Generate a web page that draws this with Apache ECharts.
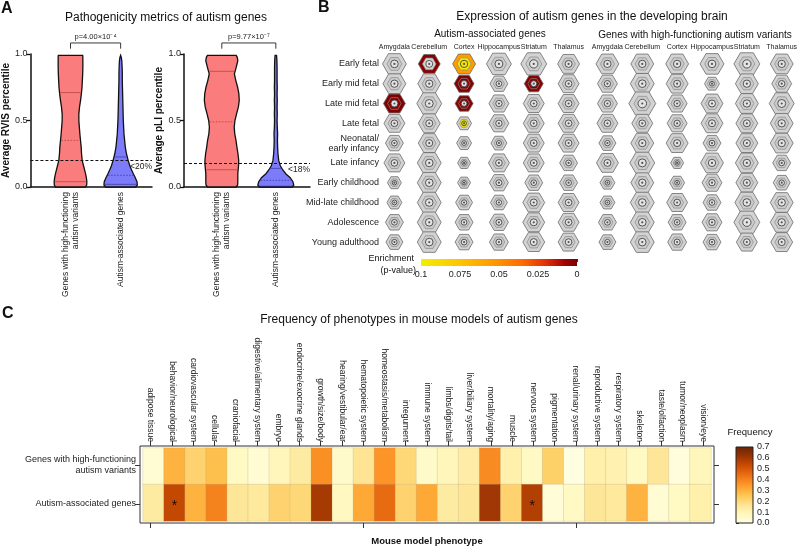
<!DOCTYPE html>
<html><head><meta charset="utf-8">
<script src="https://cdn.jsdelivr.net/npm/echarts@6/dist/echarts.min.js"></script>
<style>html,body{margin:0;padding:0;background:#fff}#c{width:800px;height:547px}</style>
</head><body><div id="c"></div>
<script>
// ================= DATA =================
// ---- Panel A: violin densities (relative half-width) at percentile levels ----
const violinLevels = [0,0.015,0.04,0.07,0.1,0.13,0.16,0.2,0.25,0.3,0.35,0.4,0.45,0.5,0.55,0.6,0.65,0.7,0.75,0.8,0.85,0.9,0.95,0.975,0.99];
const violinGroups = ['Genes with high-functioning\nautism variants', 'Autism-associated genes'];
const rvisHighFunc = [0.9,0.97,0.98,0.95,0.9,0.84,0.78,0.7,0.66,0.64,0.6,0.56,0.53,0.5,0.5,0.54,0.6,0.65,0.69,0.71,0.73,0.74,0.74,0.74,0.73];
const rvisAutism   = [0.9,1.0,0.98,0.88,0.76,0.65,0.55,0.45,0.35,0.28,0.24,0.2,0.18,0.16,0.15,0.14,0.13,0.12,0.11,0.1,0.1,0.09,0.07,0.04,0.0];
const pliHighFunc  = [0.8,0.88,0.89,0.89,0.89,0.91,0.93,0.94,0.9,0.84,0.79,0.72,0.69,0.73,0.82,0.92,0.97,0.95,0.88,0.78,0.7,0.8,0.89,0.86,0.8];
const pliAutism    = [0.92,1.0,0.95,0.8,0.55,0.38,0.25,0.16,0.12,0.1,0.09,0.1,0.08,0.07,0.08,0.07,0.08,0.07,0.08,0.07,0.07,0.07,0.06,0.05,0.04];
const rvisQuartiles = [[0.04,0.35,0.71],[0.02,0.088,0.226]];
const pliQuartiles  = [[0.13,0.49,0.87],[0.006,0.05,0.14]];
const rvisCutoff = 0.2, pliCutoff = 0.18;
const rvisCutoffLabel = '<20%', pliCutoffLabel = '<18%';
const rvisPValue = 'p=4.00×10⁻⁴', pliPValue = 'p=9.77×10⁻⁷';

// ---- Panel B: hexagon expression map ----
const brainRegions = ['Amygdala','Cerebellum','Cortex','Hippocampus','Striatum','Thalamus'];
const devStages = ['Early fetal','Early mid fetal','Late mid fetal','Late fetal','Neonatal/\nearly infancy','Late infancy','Early childhood','Mid-late childhood','Adolescence','Young adulthood'];
// relative number of specific genes (hexagon magnitude), rows = stages, cols = regions
const autismOverlap = [
 [24,22,23,25,26,22],
 [23,23,20,18,19,21],
 [22,25,18,20,21,21],
 [21,22,15,20,21,21],
 [18,22,15,16,21,21],
 [21,24,13,21,21,18],
 [14,24,13,19,18,18],
 [15,24,17,17,22,21],
 [18,24,18,19,22,21],
 [17,24,18,19,22,21]
];
const highFuncOverlap = [
 [23,23,23,24,26,23],
 [20,24,22,15,23,20],
 [20,27,20,22,23,25],
 [21,21,20,22,22,23],
 [17,23,22,18,22,23],
 [22,25,13,23,23,18],
 [15,23,15,20,22,17],
 [15,24,21,18,24,23],
 [18,24,18,20,26,23],
 [17,24,19,18,21,22]
];
// significant enrichment: [stage, region, outer p, inner p]
const autismEnriched = [
 [0,1,0.003,null],[0,2,0.055,0.096],
 [1,2,0.002,0.004],[1,4,0.003,0.002],
 [2,0,0.002,0.003],[2,2,0.002,0.003],
 [3,2,null,0.097]
];
const highFuncEnriched = [];
const enrichTicks = [0.1,0.075,0.05,0.025,0];

// ---- Panel C: phenotype frequency heatmap ----
const phenotypes = ['adipose tissue','behavior/neurological','cardiovascular system','cellular','craniofacial','digestive/alimentary system','embryo','endocrine/exocrine glands','growth/size/body','hearing/vestibular/ear','hematopoietic system','homeostasis/metabolism','integument','immune system','limbs/digits/tail','liver/biliary system','mortality/aging','muscle','nervous system','pigmentation','renal/urinary system','reproductive system','respiratory system','skeleton','taste/olfaction','tumor/neoplasm','vision/eye'];
const geneSets = ['Genes with high-functioning\nautism variants','Autism-associated genes'];
const freqHighFunc = [0.04,0.30,0.22,0.27,0.07,0.04,0.09,0.14,0.37,0.06,0.17,0.36,0.21,0.06,0.09,0.13,0.38,0.12,0.07,0.23,0.01,0.12,0.11,0.07,0.16,0.02,0.09];
const freqAutism   = [0.14,0.54,0.30,0.40,0.16,0.15,0.22,0.21,0.59,0.08,0.32,0.45,0.22,0.32,0.14,0.16,0.60,0.22,0.57,0.03,0.07,0.16,0.15,0.30,0.04,0.07,0.12];
const significantCells = [[1,1],[18,1]]; // [phenotype, gene set]

// ================= STYLE HELPERS =================
const FONT = 'Liberation Sans, Arial, Helvetica, sans-serif';
const enrichStops = [[0,'#780000'],[0.008,'#a40000'],[0.02,'#e0300a'],[0.035,'#ff6a00'],[0.05,'#ff9200'],[0.075,'#ffc400'],[0.1,'#f2ee00']];
const ylOrBr = ['#ffffe5','#fff7bc','#fee391','#fec44f','#fe9929','#ec7014','#cc4c02','#993404','#662506'];
function hex2rgb(h){h=h.replace('#','');return [0,2,4].map(i=>parseInt(h.substr(i,2),16));}
function lerpColor(stops, v){
  if (v <= stops[0][0]) return stops[0][1];
  for (let i=1;i<stops.length;i++){
    if (v <= stops[i][0]){
      const t=(v-stops[i-1][0])/(stops[i][0]-stops[i-1][0]);
      const a=hex2rgb(stops[i-1][1]), b=hex2rgb(stops[i][1]);
      return 'rgb('+a.map((x,k)=>Math.round(x+(b[k]-x)*t)).join(',')+')';
    }
  }
  return stops[stops.length-1][1];
}
const enrichColor = p => lerpColor(enrichStops, p);

// ================= PANEL A RENDER =================
function densAt(d, v){
  for (let k=1;k<violinLevels.length;k++){
    if (v <= violinLevels[k]){
      const t=(v-violinLevels[k-1])/(violinLevels[k]-violinLevels[k-1]);
      return d[k-1]+(d[k]-d[k-1])*t;
    }
  }
  return d[d.length-1];
}
const violinFill = ['#fb7c7c','#7c7cfb'];
const violinQColor = ['rgba(130,40,40,0.6)','rgba(30,30,130,0.65)'];
function violinRender(densList, quartList, pText){
  return function(params, api){
    const i = params.dataIndex;
    const d = densList[i], q = quartList[i];
    const cx = api.coord([i, 0])[0];
    const unit = api.size([1, 0])[0];
    const hw = v => v * 0.333 * unit;
    const right = [], left = [];
    violinLevels.forEach((lv, k) => {
      const y = api.coord([i, lv])[1];
      right.push([cx + hw(d[k]), y]);
      left.unshift([cx - hw(d[k]), y]);
    });
    const children = [{type:'polygon', shape:{points: right.concat(left)}, style:{fill: violinFill[i], stroke:'#111', lineWidth:1.3}}];
    q.forEach((qv, k) => {
      const y = api.coord([i, qv])[1];
      const h = Math.max(hw(densAt(d, qv)) - 1, 0.5);
      children.push({type:'line', shape:{x1:cx-h, y1:y, x2:cx+h, y2:y},
        style:{stroke: violinQColor[i], lineWidth: k===1 ? 0.9 : 0.8, lineDash: k===1 ? [1.5,1.5] : null}});
    });
    const base = api.coord([i, 0])[1];
    children.push({type:'text', x: cx, y: base + 5, rotation: Math.PI/2,
      style:{text: violinGroups[i], align:'right', verticalAlign:'middle', fontSize:8.5, fill:'#222', fontFamily: FONT, lineHeight:10}});
    if (i === 0){
      const x2 = api.coord([1, 0])[0];
      const yb = api.coord([0, 1.083])[1], ye = api.coord([0, 1.04])[1];
      children.push({type:'polyline', shape:{points:[[cx, ye],[cx, yb],[x2, yb],[x2, ye]]}, style:{stroke:'#222', lineWidth:0.9, fill:null}});
      children.push({type:'text', x:(cx+x2)/2, y: yb - 2,
        style:{text: pText, align:'center', verticalAlign:'bottom', fontSize:7.5, fill:'#222', fontFamily: FONT}});
    }
    return {type:'group', children};
  };
}

// ================= PANEL B RENDER =================
function hexPts(cx, cy, a, b){
  return [[cx-a,cy],[cx-a/2,cy-b],[cx+a/2,cy-b],[cx+a,cy],[cx+a/2,cy+b],[cx-a/2,cy+b]];
}
function buildHex(overlap, enriched){
  const data = [], extra = [];
  overlap.forEach((row, r) => row.forEach((m, c) => {
    const e = enriched.find(x => x[0]===r && x[1]===c);
    data.push([c, r, m]);
    extra.push(e ? [e[2], e[3]] : [null, null]);
  }));
  return {data, extra};
}
function hexRender(extra){
  return function(params, api){
    const c = api.coord([api.value(0), api.value(1)]);
    const band = api.size([1, 1]);
    const w = api.value(2) / 35 * band[0];
    const a = w/2, b = a*0.86;
    const e = extra[params.dataIndex];
    const outerFill = e[0] != null ? enrichColor(e[0]) : '#d3d3d3';
    const midFill = e[1] != null ? enrichColor(e[1]) : (e[0] != null ? '#d6d6d6' : '#cbcbcb');
    const coreFill = (e[1] != null && e[1] > 0.05) ? enrichColor(e[1]) : '#e4e4e4';
    return {type:'group', children:[
      {type:'polygon', shape:{points: hexPts(c[0], c[1], a, b)}, style:{fill: outerFill, stroke:'#6a6a6a', lineWidth:0.8}},
      {type:'polygon', shape:{points: hexPts(c[0], c[1], a*0.62, b*0.62)}, style:{fill: midFill, stroke:'#888', lineWidth:0.7}},
      {type:'circle', shape:{cx:c[0], cy:c[1], r: Math.max(w*0.16, 2.2)}, style:{fill: coreFill, stroke:'#444', lineWidth:0.9}},
      {type:'circle', shape:{cx:c[0], cy:c[1], r: 1.1}, style:{fill:'#555'}}
    ]};
  };
}
const hexAutism = buildHex(autismOverlap, autismEnriched);
const hexHighFunc = buildHex(highFuncOverlap, highFuncEnriched);

// ================= PANEL C DATA =================
const heatData = [];
[freqHighFunc, freqAutism].forEach((arr, r) => arr.forEach((v, c) => heatData.push([c, r, v])));
const isStar = (c, r) => significantCells.some(s => s[0]===c && s[1]===r);

// ================= OPTION =================
const axisLineBlack = {show:true, lineStyle:{color:'#111', width:1.5}};
const txt = (text, x, y, size, opt) => Object.assign({type:'text', x, y, style:Object.assign({text, fontSize:size, fill:'#111', fontFamily:FONT, align:'center', textAlign:'center', verticalAlign:'middle', textVerticalAlign:'middle'}, opt||{})});

const option = {
  animation:false,
  backgroundColor:'#fff',
  textStyle:{fontFamily: FONT},
  grid:[
    {left:21, top:54, width:131, height:133},            // 0 A1
    {left:184, top:54, width:126, height:133},           // 1 A2
    {left:377, top:54, width:209, height:198},           // 2 B1
    {left:590, top:54, width:210, height:198},           // 3 B2
    {left:421, top:259, width:156, height:7},            // 4 B colorbar
    {left:140, top:446, width:574, height:78, show:true, borderColor:'#333', borderWidth:1}, // 5 C frame
    {left:143, top:448, width:568, height:73},           // 6 C heat
    {left:736, top:447, width:17, height:76}             // 7 C colorbar
  ],
  xAxis:[
    {type:'value', gridIndex:0, min:-0.8, max:1.626, axisLine:axisLineBlack, axisTick:{show:false}, axisLabel:{show:false}, splitLine:{show:false}},
    {type:'value', gridIndex:1, min:-0.7, max:1.633, axisLine:axisLineBlack, axisTick:{show:false}, axisLabel:{show:false}, splitLine:{show:false}},
    {type:'category', gridIndex:2, data:brainRegions, position:'top', axisLine:{show:false}, axisTick:{show:false}, axisLabel:{interval:0, fontSize:7, color:'#222', margin:3}},
    {type:'category', gridIndex:3, data:brainRegions, position:'top', axisLine:{show:false}, axisTick:{show:false}, axisLabel:{interval:0, fontSize:7, color:'#222', margin:3}},
    {type:'value', gridIndex:4, min:0, max:0.1, interval:0.025, inverse:true, position:'bottom', axisLine:{show:false}, axisTick:{show:false}, splitLine:{show:false},
      axisLabel:{fontSize:9, color:'#222', margin:4, showMinLabel:true, showMaxLabel:true, formatter: v => String(+(+v).toFixed(3))}},
    {type:'value', gridIndex:4, min:0, max:0.1, interval:0.025, inverse:true, position:'top', axisLine:{show:false}, splitLine:{show:false}, axisLabel:{show:false},
      axisTick:{show:true, inside:true, length:3, lineStyle:{color:'#333', width:1}}},
    {type:'category', gridIndex:5, data:phenotypes, position:'top', axisLine:{show:false},
      axisTick:{show:true, alignWithLabel:true, length:5, lineStyle:{color:'#333'}},
      axisLabel:{interval:0, rotate:90, fontSize:8.5, color:'#222', margin:4}},
    {type:'category', gridIndex:5, data:phenotypes, position:'bottom', axisLine:{show:false},
      axisTick:{show:true, alignWithLabel:true, length:5, lineStyle:{color:'#333'}}, axisLabel:{show:false},
      name:'Mouse model phenotype', nameLocation:'middle', nameGap:13, nameTextStyle:{fontSize:9.5, fontWeight:'bold', color:'#111'}},
    {type:'category', gridIndex:6, data:phenotypes, show:false},
    {type:'value', gridIndex:7, min:0, max:1, show:false}
  ],
  yAxis:[
    {type:'value', gridIndex:0, min:0, max:1, interval:0.5, axisLine:Object.assign({onZero:false}, axisLineBlack),
      axisTick:{show:true, length:4, lineStyle:{color:'#111', width:1.3}}, splitLine:{show:false},
      axisLabel:{fontSize:9, color:'#222', margin:3, formatter: v => (+v).toFixed(1)},
      name:'Average RVIS percentile', nameLocation:'middle', nameGap:12, nameTextStyle:{fontSize:10, fontWeight:'bold', color:'#111'}},
    {type:'value', gridIndex:1, min:0, max:1, interval:0.5, axisLine:Object.assign({onZero:false}, axisLineBlack),
      axisTick:{show:true, length:4, lineStyle:{color:'#111', width:1.3}}, splitLine:{show:false},
      axisLabel:{fontSize:9, color:'#222', margin:3, formatter: v => (+v).toFixed(1)},
      name:'Average pLI percentile', nameLocation:'middle', nameGap:12, nameTextStyle:{fontSize:10, fontWeight:'bold', color:'#111'}},
    {type:'category', gridIndex:2, data:devStages, inverse:true, axisLine:{show:false}, axisTick:{show:false},
      axisLabel:{interval:0, fontSize:9, color:'#222', margin:-2, lineHeight:10}},
    {type:'category', gridIndex:3, data:devStages, inverse:true, axisLine:{show:false}, axisTick:{show:false}, axisLabel:{show:false}},
    {type:'value', gridIndex:4, min:0, max:1, show:false},
    {type:'category', gridIndex:5, data:geneSets, inverse:true, position:'left', axisLine:{show:false},
      axisTick:{show:true, alignWithLabel:true, length:5, lineStyle:{color:'#333'}},
      axisLabel:{fontSize:9, color:'#222', margin:4, lineHeight:11}},
    {type:'category', gridIndex:5, data:geneSets, inverse:true, position:'right', axisLine:{show:false},
      axisTick:{show:true, alignWithLabel:true, length:5, lineStyle:{color:'#333'}}, axisLabel:{show:false}},
    {type:'category', gridIndex:6, data:geneSets, inverse:true, show:false},
    {type:'value', gridIndex:7, min:0, max:0.7, interval:0.1, position:'right', axisLine:{show:false}, splitLine:{show:false},
      axisTick:{show:true, length:3, lineStyle:{color:'#333'}},
      axisLabel:{fontSize:9, color:'#222', margin:4, formatter: v => (+v).toFixed(1)}}
  ],
  visualMap:[{type:'continuous', show:false, seriesIndex:5, dimension:2, min:0, max:0.7, inRange:{color: ylOrBr}}],
  series:[
    {type:'custom', xAxisIndex:0, yAxisIndex:0, data:[[0,1],[1,1]], renderItem: violinRender([rvisHighFunc, rvisAutism], rvisQuartiles, rvisPValue),
      markLine:{silent:true, symbol:'none', data:[{yAxis: rvisCutoff}], lineStyle:{color:'#111', type:[3,2], width:1},
        label:{show:true, position:'insideEndBottom', formatter: rvisCutoffLabel, fontSize:8.5, color:'#222', distance:[0,2]}}},
    {type:'custom', xAxisIndex:1, yAxisIndex:1, data:[[0,1],[1,1]], renderItem: violinRender([pliHighFunc, pliAutism], pliQuartiles, pliPValue),
      markLine:{silent:true, symbol:'none', data:[{yAxis: pliCutoff}], lineStyle:{color:'#111', type:[3,2], width:1},
        label:{show:true, position:'insideEndBottom', formatter: pliCutoffLabel, fontSize:8.5, color:'#222', distance:[0,2]}}},
    {type:'custom', xAxisIndex:2, yAxisIndex:2, data: hexAutism.data, renderItem: hexRender(hexAutism.extra)},
    {type:'custom', xAxisIndex:3, yAxisIndex:3, data: hexHighFunc.data, renderItem: hexRender(hexHighFunc.extra)},
    {type:'custom', xAxisIndex:4, yAxisIndex:4, data:[[0,0]], renderItem:(p, api) => {
      const lo = api.coord([enrichTicks[0], 0]), hi = api.coord([enrichTicks[enrichTicks.length-1], 1]);
      const x0 = Math.min(lo[0], hi[0]), x1 = Math.max(lo[0], hi[0]);
      const stops = enrichStops.map(s => ({offset: (0.1 - s[0]) / 0.1, color: s[1]})).reverse();
      return {type:'rect', shape:{x:x0, y:hi[1], width:x1-x0, height:lo[1]-hi[1]},
        style:{fill: new echarts.graphic.LinearGradient(0,0,1,0, stops)}};
    }},
    {type:'heatmap', xAxisIndex:8, yAxisIndex:7, data: heatData, progressive:0,
      itemStyle:{borderColor:'rgba(170,150,110,0.35)', borderWidth:0.6},
      label:{show:true, formatter: p => isStar(p.value[0], p.value[1]) ? '*' : '', fontSize:14, color:'#111', offset:[0,3]},
      emphasis:{disabled:true}},
    {type:'custom', xAxisIndex:9, yAxisIndex:8, data:[[0,0]], renderItem:(p, api) => {
      const lo = api.coord([0, 0]), hi = api.coord([1, 0.7]);
      return {type:'rect', shape:{x:lo[0], y:hi[1], width:hi[0]-lo[0], height:lo[1]-hi[1]},
        style:{fill: new echarts.graphic.LinearGradient(0,1,0,0, ylOrBr.map((c,i)=>({offset:i/(ylOrBr.length-1), color:c}))), stroke:'#222', lineWidth:1}};
    }}
  ],
  graphic:[
    txt('A', 1, 1, 16, {fontWeight:'bold', align:'left', textAlign:'left', verticalAlign:'top', textVerticalAlign:'top'}),
    txt('B', 318, 0, 16, {fontWeight:'bold', align:'left', textAlign:'left', verticalAlign:'top', textVerticalAlign:'top'}),
    txt('C', 2, 306, 16, {fontWeight:'bold', align:'left', textAlign:'left', verticalAlign:'top', textVerticalAlign:'top'}),
    txt('Pathogenicity metrics of autism genes', 166, 18, 12),
    txt('Expression of autism genes in the developing brain', 592, 17, 12),
    txt('Autism-associated genes', 490, 34, 10),
    txt('Genes with high-functioning autism variants', 695, 35, 10),
    txt('Enrichment', 414, 259, 9, {align:'right', textAlign:'right'}),
    txt('(p-value)', 416, 271, 9, {align:'right', textAlign:'right'}),
    txt('Frequency of phenotypes in mouse models of autism genes', 419, 320, 12),
    txt('Frequency', 750, 432, 9.5)
  ]
};
const chart = echarts.init(document.getElementById('c'));
chart.setOption(option);
</script>
</body></html>
